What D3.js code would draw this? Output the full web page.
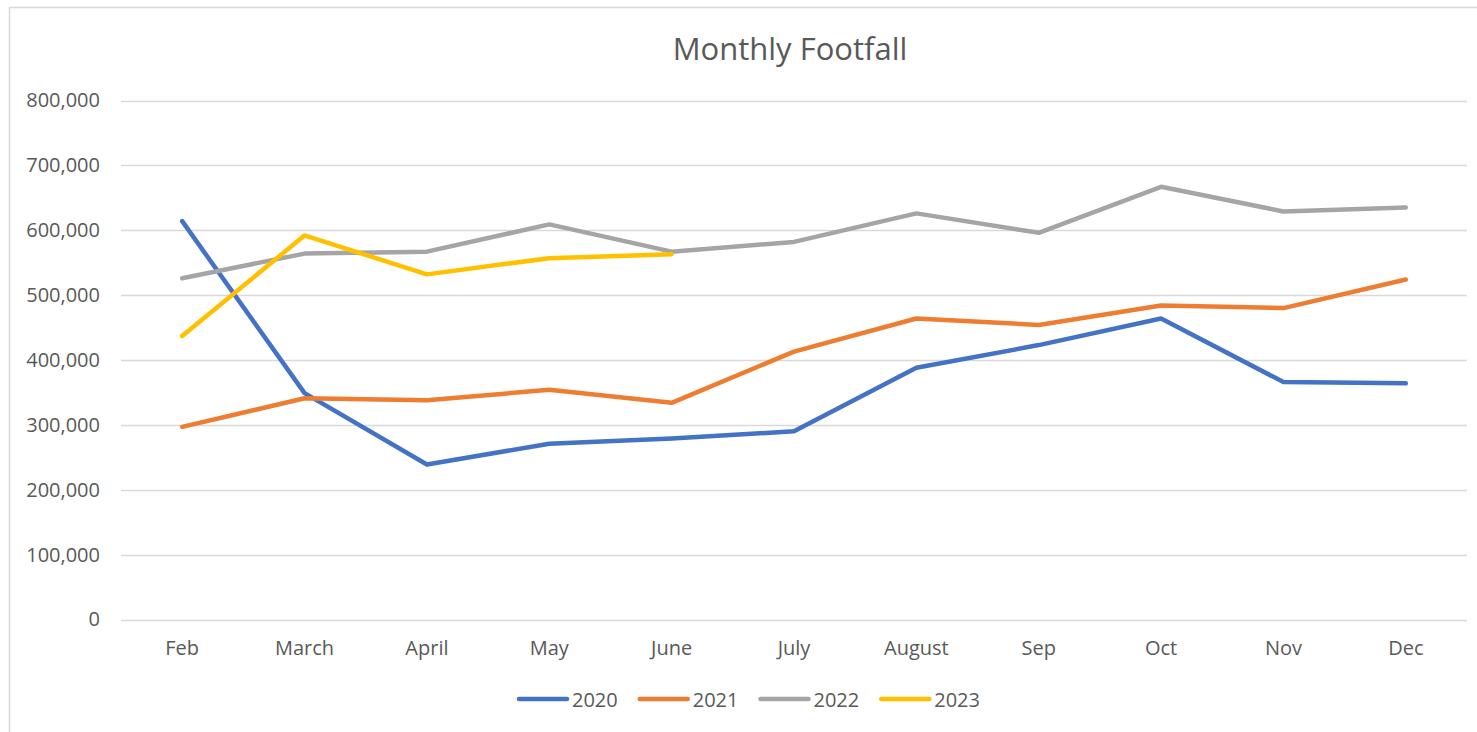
<!DOCTYPE html>
<html>
<head>
<meta charset="utf-8">
<script src="https://cdn.jsdelivr.net/npm/d3@7"></script>
<style>
  html, body { margin: 0; padding: 0; background: #ffffff; }
  svg { display: block; font-family: "Open Sans", sans-serif; }
</style>
</head>
<body>
<svg id="chart" width="1477" height="732"></svg>
<script>
const categories = ["Feb", "March", "April", "May", "June", "July", "August", "Sep", "Oct", "Nov", "Dec"];
const years = ["2020", "2021", "2022", "2023"];
const values2020 = [614000, 349000, 239000, 271000, 279000, 290000, 388000, 423000, 464000, 366000, 364000];
const values2021 = [297000, 341000, 338000, 354000, 334000, 413000, 464000, 454000, 484000, 480000, 524000];
const values2022 = [526000, 564000, 567000, 609000, 567000, 582000, 626000, 596000, 667000, 629000, 635000];
const values2023 = [437000, 592000, 532000, 557000, 563000];
const yTicks = [0, 100000, 200000, 300000, 400000, 500000, 600000, 700000, 800000];
const colors = ["#4472C4", "#ED7D31", "#A5A5A5", "#FFC000"];

const seriesList = [values2020, values2021, values2022, values2023].map((vals, i) => ({
  name: years[i], color: colors[i],
  points: vals.map((v, j) => ({ cat: categories[j], v }))
}));

const svg = d3.select("#chart");
const textColor = "#595959";

// chart area border
svg.append("rect")
  .attr("x", 9.5).attr("y", 7.5)
  .attr("width", 1490).attr("height", 760)
  .attr("fill", "#fff").attr("stroke", "#D9D9D9").attr("stroke-width", 1.5);

const x = d3.scaleBand().domain(categories).range([121, 1467]).padding(0);
const y = d3.scaleLinear().domain([0, 800000]).range([619.5, 100.5]);

// gridlines
svg.append("g")
  .selectAll("line")
  .data(yTicks)
  .join("line")
  .attr("x1", 121).attr("x2", 1467)
  .attr("y1", d => Math.round(y(d)) + 0.5)
  .attr("y2", d => Math.round(y(d)) + 0.5)
  .attr("stroke", "#D9D9D9").attr("stroke-width", 1.3);

// y axis labels
const yAxis = d3.axisLeft(y).tickValues(yTicks).tickSize(0).tickPadding(0)
  .tickFormat(d => d3.format(",")(d));
const gy = svg.append("g").attr("transform", "translate(100,0)").call(yAxis);
gy.select(".domain").remove();
gy.selectAll("text").attr("fill", textColor).style("font-size", "20px")
  .style("font-family", "'Open Sans', sans-serif");

// x axis labels
const xAxis = d3.axisBottom(x).tickSize(0).tickPadding(0);
const gx = svg.append("g").attr("transform", "translate(0,641)").call(xAxis);
gx.select(".domain").remove();
gx.selectAll("text").attr("fill", textColor).style("font-size", "20px")
  .style("font-family", "'Open Sans', sans-serif");

// lines
const line = d3.line()
  .x(d => x(d.cat) + x.bandwidth() / 2)
  .y(d => y(d.v));

svg.append("g")
  .selectAll("path")
  .data(seriesList)
  .join("path")
  .attr("d", d => line(d.points))
  .attr("fill", "none")
  .attr("stroke", d => d.color)
  .attr("stroke-width", 4.5)
  .attr("stroke-linejoin", "round")
  .attr("stroke-linecap", "round");

// title
svg.append("text")
  .attr("x", 790).attr("y", 48)
  .attr("text-anchor", "middle").attr("dominant-baseline", "central")
  .attr("fill", textColor)
  .style("font-size", "31px")
  .text("Monthly Footfall");

// legend
const legend = svg.append("g").attr("transform", "translate(517,699)");
let cx = 0;
seriesList.forEach(s => {
  const g = legend.append("g").attr("transform", `translate(${cx},0)`);
  g.append("line").attr("x1", 2).attr("x2", 50).attr("y1", 0).attr("y2", 0)
    .attr("stroke", s.color).attr("stroke-width", 4.5).attr("stroke-linecap", "round");
  const t = g.append("text").attr("x", 55).attr("y", 0)
    .attr("dominant-baseline", "central").attr("fill", textColor)
    .style("font-size", "20px").text(s.name);
  const w = t.node().getComputedTextLength();
  cx += 55 + w + 20;
});
</script>
</body>
</html>
